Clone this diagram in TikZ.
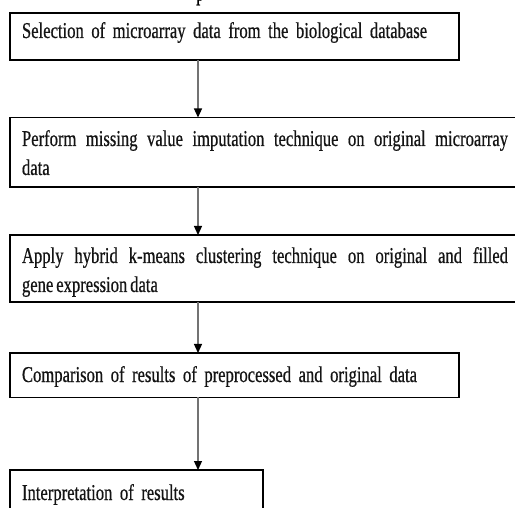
\documentclass[tikz,border=0pt]{standalone}
\usepackage{fontspec}
\setmainfont{Liberation Serif}[FakeStretch=0.735, WordSpace=0.7, FakeBold=0.6]
\usetikzlibrary{arrows.meta}
\begin{document}
\begin{tikzpicture}[x=1pt,y=-1pt,
  stepbox/.style={draw=black, line width=1.5pt, rectangle, anchor=north west,
    inner xsep=12pt, inner ysep=0pt, outer sep=0pt,
    font=\fontsize{22.6}{29}\selectfont, text=black!92},
  flow/.style={draw=black!55, line width=1.3pt,
    -{Triangle[color=black,width=8pt,length=9pt]}}
]
\useasboundingbox (0,0) rectangle (515,508);
\clip (0,0) rectangle (515,508);
\node[anchor=base west, inner sep=0pt, font=\fontsize{22.6}{29}\selectfont] (cap) at (196,0.5) {p};
\node[stepbox, text width=425pt, align=left, text height=25pt, text depth=22pt] (b1) at (10,13)
  {Selection of microarray data from the biological database};
\node[stepbox, text width=486pt, align=justify, text height=28.5pt, text depth=41pt] (b2) at (10,117.5)
  {Perform missing value imputation technique on original microarray\linebreak data};
\node[stepbox, text width=486pt, align=justify, text height=28pt, text depth=39pt] (b3) at (10,235)
  {Apply hybrid k-means clustering technique on original and filled\linebreak gene expression data};
\node[stepbox, text width=425pt, align=left, text height=29pt, text depth=15.5pt] (b4) at (10,353)
  {Comparison of results of preprocessed and original data};
\node[stepbox, text width=229pt, align=left, text height=30pt, text depth=25pt] (b5) at (10,470)
  {Interpretation of results};
\coordinate (ax) at (198,0);
\draw[flow] (b1.south -| ax) -- (b2.north -| ax);
\draw[flow] (b2.south -| ax) -- (b3.north -| ax);
\draw[flow] (b3.south -| ax) -- (b4.north -| ax);
\draw[flow] (b4.south -| ax) -- (b5.north -| ax);
\end{tikzpicture}
\end{document}
